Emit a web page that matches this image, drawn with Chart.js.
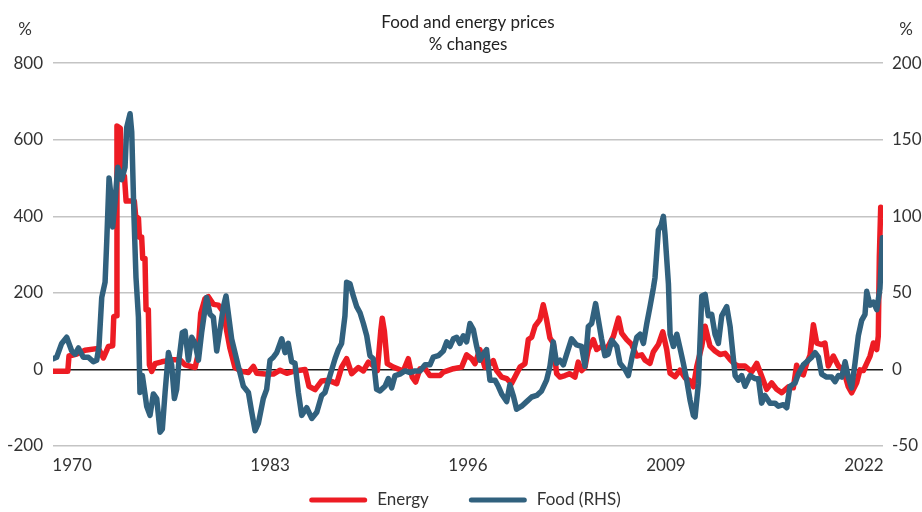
<!DOCTYPE html>
<html lang="en">
<head>
    <meta charset="UTF-8">
    <title>Food and energy prices</title>
    <script src="https://cdn.jsdelivr.net/npm/chart.js"></script>
    <style>
        body {
            margin: 0;
            background-color: #fff;
            font-family: Lato, sans-serif;
        }

        .chart-box {
            width: 922px;
            height: 512px;
        }
    </style>
</head>
<body>
    <div class="chart-box">
        <canvas id="priceChart"></canvas>
    </div>
    <script>
        // values (decimal years, % change)
        const energyYears = [1968.77, 1969.72, 1969.80, 1970.31, 1970.85, 1971.73, 1972.06, 1972.39, 1972.67, 1972.74,
            1972.89, 1972.95, 1973.17, 1973.28, 1973.44, 1973.55, 1974.09, 1974.18, 1974.36, 1974.42,
            1974.57, 1974.64, 1974.79, 1974.86, 1975.01, 1975.08, 1975.23, 1975.45, 1975.89, 1976.54,
            1977.10, 1977.42, 1978.08, 1978.25, 1978.45, 1978.73, 1978.95, 1979.28, 1979.61, 1979.94,
            1980.16, 1980.37, 1980.70, 1981.14, 1981.58, 1981.91, 1982.13, 1982.67, 1983.22, 1983.66,
            1984.10, 1984.53, 1984.97, 1985.30, 1985.56, 1985.96, 1986.39, 1986.83, 1987.38, 1987.70,
            1988.03, 1988.36, 1988.80, 1989.13, 1989.46, 1989.78, 1990.05, 1990.27, 1990.37, 1990.51,
            1990.70, 1991.10, 1991.75, 1992.08, 1992.34, 1992.56, 1992.85, 1993.18, 1993.50, 1994.16,
            1994.38, 1995.04, 1995.58, 1995.91, 1996.24, 1996.46, 1996.78, 1997.11, 1997.44, 1997.66,
            1997.88, 1998.21, 1998.54, 1998.86, 1999.08, 1999.41, 1999.74, 1999.96, 2000.18, 2000.40,
            2000.72, 2000.94, 2001.16, 2001.38, 2001.60, 2001.82, 2002.04, 2002.37, 2002.69, 2003.02,
            2003.24, 2003.46, 2003.68, 2003.90, 2004.23, 2004.45, 2004.77, 2005.00, 2005.22, 2005.55,
            2005.88, 2006.09, 2006.42, 2006.75, 2007.08, 2007.41, 2007.63, 2007.95, 2008.17, 2008.50,
            2008.79, 2009.05, 2009.27, 2009.60, 2009.92, 2010.25, 2010.58, 2010.80, 2011.02, 2011.35,
            2011.57, 2011.89, 2012.22, 2012.55, 2012.88, 2013.21, 2013.54, 2013.75, 2014.19, 2014.63,
            2014.96, 2015.28, 2015.61, 2015.94, 2016.27, 2016.60, 2017.04, 2017.36, 2017.58, 2017.80,
            2018.02, 2018.24, 2018.46, 2018.68, 2018.90, 2019.22, 2019.44, 2019.66, 2019.99, 2020.32,
            2020.65, 2020.97, 2021.19, 2021.52, 2021.74, 2021.96, 2022.18, 2022.40, 2022.62, 2022.84,
            2022.94, 2023.01, 2023.10, 2023.16];
        const energyPct = [-5, -5, 35, 40, 50, 55, 30, 60, 62, 138,
            140, 636, 630, 500, 505, 440, 440, 400, 395, 346,
            346, 290, 290, 156, 156, 12, -5, 15, 20, 25,
            25, 12, 5, 34, 147, 185, 190, 170, 168, 150,
            100, 55, 5, -5, -8, 8, -10, -12, -12, -2,
            -10, -5, -2, 0, -44, -53, -30, -28, -37, 6,
            28, -11, 5, -4, 19, 10, -3, 100, 134, 100,
            15, 6, -4, 28, -20, -33, 2, 2, -16, -16,
            -7, 2, 6, 38, 28, 15, 52, 6, 15, 23,
            -3, -20, -24, -37, -20, 6, 15, 78, 84, 113,
            130, 169, 130, 82, 69, -11, -20, -16, -11, -20,
            19, -3, 6, 52, 78, 52, 60, 55, 61, 87,
            134, 95, 78, 65, 35, 38, 24, 16, 46, 65,
            98, 52, -10, -19, -2, -22, -30, -45, 7, 61,
            113, 61, 48, 39, 42, 26, 13, 9, 9, -6,
            16, -17, -52, -35, -52, -61, -45, -48, 11, -10,
            -14, 16, 37, 117, 69, 65, 69, 9, 35, 9,
            -1, -45, -61, -35, -1, -3, 16, 35, 69, 52,
            87, 294, 424, 400];

        const foodYears = [1968.77, 1968.99, 1969.32, 1969.65, 1969.98, 1970.20, 1970.42, 1970.74, 1971.07, 1971.40,
            1971.62, 1971.77, 1971.95, 1972.17, 1972.28, 1972.43, 1972.54, 1972.67, 1972.82, 1973.00,
            1973.26, 1973.48, 1973.59, 1973.81, 1973.92, 1974.07, 1974.20, 1974.36, 1974.46, 1974.62,
            1974.79, 1974.90, 1975.12, 1975.34, 1975.56, 1975.78, 1975.93, 1976.11, 1976.33, 1976.54,
            1976.72, 1976.87, 1977.03, 1977.24, 1977.42, 1977.64, 1977.86, 1978.08, 1978.30, 1978.51,
            1978.84, 1979.06, 1979.28, 1979.50, 1979.72, 1979.94, 1980.11, 1980.27, 1980.48, 1980.92,
            1981.25, 1981.58, 1981.80, 1982.02, 1982.24, 1982.56, 1982.78, 1983.00, 1983.22, 1983.44,
            1983.77, 1983.99, 1984.20, 1984.42, 1984.64, 1984.86, 1985.08, 1985.41, 1985.74, 1986.07,
            1986.39, 1986.61, 1986.94, 1987.27, 1987.49, 1987.70, 1987.92, 1988.03, 1988.25, 1988.47,
            1988.69, 1988.91, 1989.13, 1989.35, 1989.56, 1989.78, 1990.00, 1990.22, 1990.55, 1990.77,
            1990.99, 1991.21, 1991.53, 1991.86, 1992.19, 1992.52, 1992.85, 1993.18, 1993.50, 1993.72,
            1994.05, 1994.38, 1994.60, 1994.82, 1995.04, 1995.26, 1995.47, 1995.69, 1995.91, 1996.13,
            1996.35, 1996.57, 1996.78, 1997.00, 1997.22, 1997.44, 1997.77, 1997.99, 1998.21, 1998.54,
            1998.75, 1998.97, 1999.19, 1999.52, 1999.85, 2000.18, 2000.51, 2000.83, 2001.16, 2001.38,
            2001.60, 2001.82, 2002.04, 2002.26, 2002.48, 2002.80, 2003.13, 2003.46, 2003.68, 2003.90,
            2004.12, 2004.38, 2004.55, 2004.77, 2004.99, 2005.21, 2005.44, 2005.77, 2005.98, 2006.31,
            2006.53, 2006.75, 2007.08, 2007.30, 2007.52, 2007.74, 2007.95, 2008.17, 2008.28, 2008.50,
            2008.68, 2008.83, 2008.94, 2009.16, 2009.27, 2009.49, 2009.71, 2009.92, 2010.14, 2010.36,
            2010.58, 2010.80, 2010.91, 2011.13, 2011.35, 2011.57, 2011.78, 2012.00, 2012.22, 2012.44,
            2012.66, 2012.99, 2013.21, 2013.54, 2013.75, 2013.97, 2014.19, 2014.52, 2014.85, 2015.07,
            2015.28, 2015.50, 2015.83, 2016.16, 2016.38, 2016.71, 2016.93, 2017.14, 2017.47, 2017.69,
            2018.02, 2018.35, 2018.57, 2018.79, 2019.01, 2019.22, 2019.55, 2019.88, 2020.10, 2020.32,
            2020.54, 2020.76, 2020.97, 2021.19, 2021.41, 2021.63, 2021.85, 2022.07, 2022.18, 2022.40,
            2022.62, 2022.84, 2023.05, 2023.21];
        const foodPct = [7, 8, 17, 21, 12, 10, 14, 8, 8, 5,
            6, 15, 47, 57, 84, 125, 115, 93, 109, 132,
            124, 132, 158, 167, 155, 99, 60, 34, -15, -4,
            -16, -24, -30, -16, -19, -41, -39, -15, 11, 3,
            -19, -13, 7, 24, 25, 6, 21, 17, 6, 24,
            47, 36, 34, 12, 26, 41, 48, 36, 20, 2,
            -11, -15, -28, -40, -35, -19, -13, 6, 8, 11,
            20, 11, 17, 5, 4, -15, -30, -25, -32, -28,
            -17, -15, -4, 7, 13, 17, 35, 57, 56, 48,
            41, 37, 30, 22, 9, 7, -13, -14, -11, -6,
            -12, -4, -3, -1, -2, -1, -1, 3, 3, 8,
            9, 12, 18, 15, 20, 21, 17, 22, 18, 30,
            26, 15, 6, 10, 13, -7, -7, -11, -16, -21,
            -10, -17, -26, -24, -21, -18, -17, -14, -7, 2,
            18, 4, 6, 3, 10, 20, 16, 15, 2, 28,
            30, 43, 33, 20, 9, 10, 19, 15, 4, 0,
            -4, 7, 21, 23, 17, 30, 41, 53, 60, 91,
            94, 100, 88, 56, 23, 15, 23, 14, 4, -7,
            -20, -30, -31, -9, 48, 49, 35, 36, 23, 17,
            35, 41, 28, -4, -7, -4, -11, -4, -6, -6,
            -22, -17, -22, -22, -24, -23, -25, -11, -9, -3,
            3, 6, 8, 11, 8, -3, -5, -5, -8, -4,
            -5, 5, -5, -12, 4, 22, 32, 36, 51, 42,
            44, 39, 53, 86];

        const yearTicks = [1970, 1983, 1996, 2009, 2022];
        const seriesNames = ['Energy', 'Food (RHS)'];

        const textColor = '#333333';
        const fontFamily = 'Lato, sans-serif';

        const toPoints = (xs, ys) => xs.map((x, i) => ({ x: x, y: ys[i] }));

        // "%" unit labels above both axes
        const unitLabels = {
            id: 'unitLabels',
            afterDraw(chart) {
                const c = chart.ctx;
                c.save();
                c.font = '17px ' + fontFamily;
                c.fillStyle = textColor;
                c.textAlign = 'center';
                c.textBaseline = 'middle';
                c.fillText('%', 25, 30);
                c.fillText('%', 906, 30);
                c.restore();
            }
        };

        // legend drawn by hand: line sample + label, centred under the plot
        const lineLegend = {
            id: 'lineLegend',
            afterDraw(chart) {
                const c = chart.ctx;
                const sample = 58, gap = 10, between = 40, y = 500;
                c.save();
                c.font = '17px ' + fontFamily;
                const sets = chart.data.datasets;
                let total = 0;
                sets.forEach((ds, i) => {
                    total += sample + gap + c.measureText(ds.label).width;
                    if (i > 0) total += between;
                });
                let x = 465 - total / 2;
                sets.forEach(ds => {
                    c.strokeStyle = ds.borderColor;
                    c.lineWidth = 5;
                    c.lineCap = 'round';
                    c.beginPath();
                    c.moveTo(x + 2.5, y);
                    c.lineTo(x + sample - 2.5, y);
                    c.stroke();
                    x += sample + gap;
                    c.fillStyle = textColor;
                    c.textAlign = 'left';
                    c.textBaseline = 'middle';
                    c.fillText(ds.label, x, y);
                    x += c.measureText(ds.label).width + between;
                });
                c.restore();
            }
        };

        const ctx = document.getElementById('priceChart').getContext('2d');
        const priceChart = new Chart(ctx, {
            type: 'line',
            data: {
                datasets: [{
                    label: seriesNames[0],
                    data: toPoints(energyYears, energyPct),
                    borderColor: '#ED1C24',
                    backgroundColor: '#ED1C24',
                    borderWidth: 5.5,
                    yAxisID: 'y',
                    order: 1
                }, {
                    label: seriesNames[1],
                    data: toPoints(foodYears, foodPct),
                    borderColor: '#31617E',
                    backgroundColor: '#31617E',
                    borderWidth: 5.5,
                    yAxisID: 'y1',
                    order: 0
                }]
            },
            plugins: [unitLabels, lineLegend],
            options: {
                responsive: true,
                maintainAspectRatio: false,
                animation: false,
                elements: {
                    point: { radius: 0 },
                    line: { tension: 0, borderJoinStyle: 'round', borderCapStyle: 'round' }
                },
                layout: {
                    padding: { top: 0, bottom: 0, left: 0, right: -14 }
                },
                plugins: {
                    title: {
                        display: true,
                        text: ['Food and energy prices', '% changes'],
                        color: '#222222',
                        font: { family: fontFamily, size: 17, weight: 'normal', lineHeight: 1.3 },
                        padding: { top: 11, bottom: 8 }
                    },
                    legend: { display: false },
                    tooltip: { enabled: false }
                },
                scales: {
                    x: {
                        type: 'linear',
                        min: 1968.75,
                        max: 2023.25,
                        grid: { display: false, drawTicks: false },
                        border: { display: false },
                        afterBuildTicks: (scale) => {
                            scale.ticks = yearTicks.map(v => ({ value: v }));
                        },
                        afterFit: (scale) => { scale.height = 66; },
                        ticks: {
                            color: textColor,
                            font: { family: fontFamily, size: 17 },
                            padding: 9,
                            maxRotation: 0,
                            autoSkip: false,
                            callback: (v) => String(v)
                        }
                    },
                    y: {
                        position: 'left',
                        min: -200,
                        max: 800,
                        afterFit: (scale) => { scale.width = 53; },
                        border: { display: false },
                        grid: {
                            drawTicks: false,
                            lineWidth: 1.5,
                            color: (c) => c.tick && c.tick.value === 0 ? '#1a1a1a' : '#c4c4c4'
                        },
                        ticks: {
                            stepSize: 200,
                            color: textColor,
                            font: { family: fontFamily, size: 17 },
                            padding: 10
                        }
                    },
                    y1: {
                        position: 'right',
                        min: -50,
                        max: 200,
                        afterFit: (scale) => { scale.width = 53; },
                        border: { display: false },
                        grid: { display: false, drawTicks: false },
                        ticks: {
                            stepSize: 50,
                            color: textColor,
                            font: { family: fontFamily, size: 17 },
                            padding: 9
                        }
                    }
                }
            }
        });
    </script>
</body>
</html>
